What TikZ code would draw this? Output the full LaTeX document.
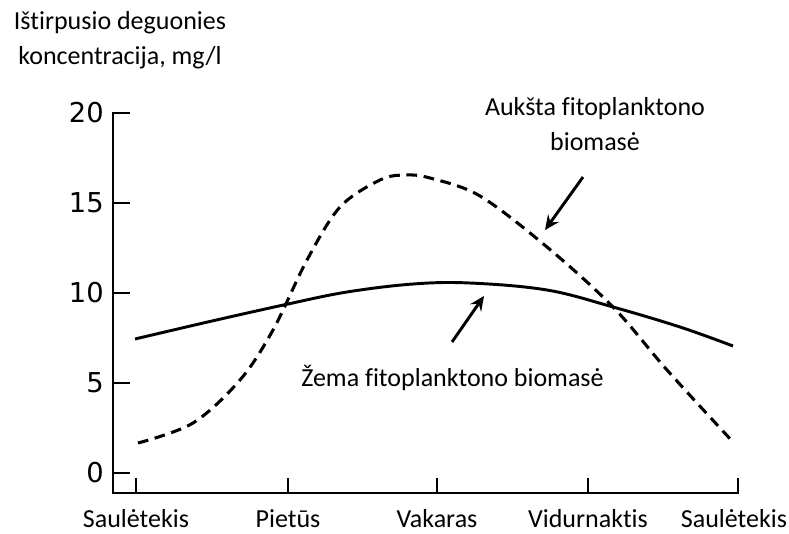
\documentclass[tikz,border=0pt]{standalone}
\usepackage{fontspec}
\setmainfont[Ligatures=NoCommon]{Carlito}
\newfontfamily\numfont{DejaVu Sans}
\usetikzlibrary{arrows.meta}
\begin{document}
\begin{tikzpicture}[x=0.75pt,y=-0.75pt,
  axisline/.style={line width=1.6pt,line cap=rect},
  tickline/.style={line width=1.6pt},
  curvesolid/.style={line width=2.2pt},
  curvedash/.style={line width=2.3pt,dash pattern=on 8pt off 5pt},
  pointer/.style={line width=2.2pt,-{Stealth[length=11pt,width=10pt,inset=4pt]}},
  ylab/.style={anchor=east,font=\numfont\fontsize{20.5pt}{24pt}\selectfont,inner sep=0pt},
  xlab/.style={anchor=base,font=\fontsize{19.5pt}{22pt}\selectfont,inner sep=0pt},
  txt/.style={align=center,font=\fontsize{19.5pt}{26pt}\selectfont,inner sep=0pt}]
\useasboundingbox (0,0) rectangle (789,533);
% axes
\coordinate (O) at (113,493);
\coordinate (Ytop) at (113,113);
\coordinate (Xend) at (738,493);
\draw[axisline] (Ytop) -- (O) -- (Xend);
% y ticks
\foreach \v/\yy in {20/113,15/203,10/293,5/383,0/473}{
  \draw[tickline] (113,\yy) -- (130,\yy);
  \node[ylab] (y\v) at (104,\yy) {\v};
}
% x ticks
\foreach \xx in {136,288,437,588,738}{
  \draw[tickline] (\xx,493) -- (\xx,478);
}
\node[xlab] (x1) at (136,527) {Saulėtekis};
\node[xlab] (x2) at (288,527) {Pietūs};
\node[xlab] (x3) at (437,527) {Vakaras};
\node[xlab] (x4) at (588,527) {Vidurnaktis};
\node[xlab] (x5) at (734,527) {Saulėtekis};
% axis title
\node[txt] (title) at (120,40) {Ištirpusio deguonies\\koncentracija, mg/l};
% curves
\draw[curvesolid] plot[smooth,tension=0.6] coordinates {(135,339) (212,321) (288,304) (347,292) (413,284) (470,283) (547,290) (613,307) (680,327) (733,346)};
\draw[curvedash] plot[smooth,tension=0.55] coordinates {(138,443) (193,423) (240,380) (273,330) (307,260) (340,207) (380,180) (405,175) (430,178) (480,196) (547,247) (613,307) (667,370) (733,442)};
% labels and arrows
\node[txt] (high) at (595,124) {Aukšta fitoplanktono\\biomasė};
\node[txt,anchor=west] (low) at (301,378) {Žema fitoplanktono biomasė};
\coordinate (hs) at (583,177);
\coordinate (he) at (545,230);
\coordinate (ls) at (452,342);
\coordinate (le) at (484,296);
\draw[pointer] (hs) -- (he);
\draw[pointer] (ls) -- (le);
\end{tikzpicture}
\end{document}
